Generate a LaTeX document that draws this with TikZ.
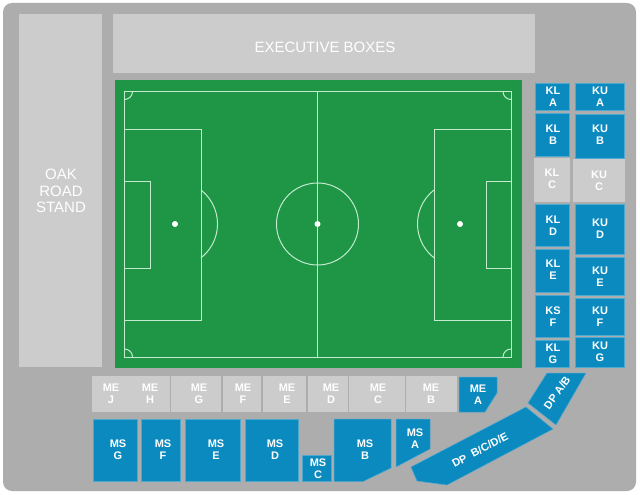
\documentclass[tikz,border=0pt]{standalone}
\usepackage{fontspec}
\setmainfont{Liberation Sans}
\usepackage{tikz}
\usetikzlibrary{calc}

\definecolor{groundgrey}{HTML}{ADADAD}
\definecolor{standgrey}{HTML}{CCCCCC}
\definecolor{seatblue}{HTML}{0B8ABF}
\definecolor{seatedge}{HTML}{4FA9CE}
\definecolor{pitchgreen}{HTML}{1E9646}
\definecolor{linegreen}{HTML}{C4EBCF}

\tikzset{
	standlabel/.style={text=white, align=center, font=\fontsize{15}{16.5}\selectfont, inner sep=0pt},
	seatlabel/.style={text=white, align=center, font=\fontsize{11}{12}\selectfont\bfseries, inner sep=0pt},
	pitchline/.style={draw=linegreen, line width=1pt},
	blueblock/.style={fill=seatblue, draw=seatedge, line width=0.5pt},
}

\begin{document}
\begin{tikzpicture}[x=1pt, y=-1pt]
	\useasboundingbox (0,0) rectangle (640,495);
	\fill[white] (0,0) rectangle (640,495);
	\fill[groundgrey, rounded corners=9pt] (3,3) rectangle (636,491);

	% stands
	\fill[standgrey] (19,14) rectangle (102,367);
	\fill[standgrey] (113,14) rectangle (535,73);
	\node[standlabel] (oak) at (61,191) {OAK\\ROAD\\STAND};
	\node[standlabel] (exec) at (325,47) {EXECUTIVE BOXES};

	% pitch
	\fill[pitchgreen] (115,80) rectangle (522,368);
	\draw[pitchline] (124.5,91.5) rectangle (511,357);
	\draw[pitchline] (317.5,91.5) -- (317.5,357);
	\draw[pitchline] (317.5,224) circle (41);
	\draw[pitchline] (124.5,129) rectangle (201,320);
	\draw[pitchline] (124.5,181) rectangle (150,268);
	\draw[pitchline] (511,129) rectangle (434,320);
	\draw[pitchline] (511,181) rectangle (486,268);
	\draw[pitchline] (201,190) arc[start angle=-52, end angle=52, radius=43];
	\draw[pitchline] (434,190) arc[start angle=232, end angle=128, radius=43];
	\draw[pitchline] (132.5,91.5) arc[start angle=0, end angle=90, radius=8];
	\draw[pitchline] (503,91.5) arc[start angle=180, end angle=90, radius=8];
	\draw[pitchline] (132.5,357) arc[start angle=0, end angle=-90, radius=8];
	\draw[pitchline] (503,357) arc[start angle=180, end angle=270, radius=8];
	\foreach \spotx in {175,317.5,460}
		\fill[white] (\spotx,224) circle (3);

	% grey blocks
	\foreach \xa/\ya/\xb/\yb/\lx/\ly/\rowa/\rowb in {
		92/376/125.5/412/111/394/ME/J,
		126/376/170/412/150/394/ME/H,
		171/376/221/412/199/394/ME/G,
		223/376/261/412/243/394/ME/F,
		263/376/306/412/287/394/ME/E,
		308/376/348/412/331/394/ME/D,
		349/376/405/412/378/394/ME/C,
		406/376/457/412/431/394/ME/B,
		534/158/570/202/552/179/KL/C,
		573/159/625/202/599/181/KU/C}
	{
		\fill[standgrey] (\xa,\ya) rectangle (\xb,\yb);
		\node[seatlabel] (\rowa-\rowb) at (\lx,\ly) {\rowa\\\rowb};
	}

	% blue blocks
	\foreach \xa/\ya/\xb/\yb/\lx/\ly/\rowa/\rowb in {
		93.5/419/137/481.5/118/450/MS/G,
		141/419/180/481.5/163/450/MS/F,
		185/419/240/481.5/216/450/MS/E,
		245/419/298/481.5/275/450/MS/D,
		302.5/455/331/481.5/318/469/MS/C,
		535/83/569/110/553/97/KL/A,
		575/83/624/110/600/97/KU/A,
		535/113/569/156/553/135/KL/B,
		575/114/624/158/600/135/KU/B,
		535/204/569/246/553/226/KL/D,
		575/204/624/254/600/229/KU/D,
		535/249/569/292/553/270/KL/E,
		575/257/624/295/600/277/KU/E,
		535/295/569/337/553/317/KS/F,
		575/298/624/335/600/317/KU/F,
		535/340/569/367/553/354/KL/G,
		575/337/624/367/600/352/KU/G}
	{
		\draw[blueblock] (\xa,\ya) rectangle (\xb,\yb);
		\node[seatlabel] (\rowa-\rowb) at (\lx,\ly) {\rowa\\\rowb};
	}

	% blocks with cut corners
	\draw[blueblock] (459,377) -- (497,377) -- (497,393) -- (485,412) -- (459,412) -- cycle;
	\node[seatlabel] (ME-A) at (478,395) {ME\\A};
	\draw[blueblock] (334,419) -- (391,419) -- (391,468) -- (363,481.5) -- (334,481.5) -- cycle;
	\node[seatlabel] (MS-B) at (365,450) {MS\\B};
	\draw[blueblock] (396,419) -- (430,419) -- (430,449) -- (396,467) -- cycle;
	\node[seatlabel] (MS-A) at (415,439) {MS\\A};
	\draw[blueblock] (411,467) -- (526,407) -- (553,429) -- (447,485) -- (417,481) -- cycle;
	\node[seatlabel, rotate=28] (DP-B) at (480,450) {DP\ \ B/C/D/E};
	\draw[blueblock] (547,373) -- (586,373) -- (556,425) -- (528,403) -- cycle;
	\node[seatlabel, rotate=55] (DP-A) at (557,393) {DP A/B};
\end{tikzpicture}
\end{document}
